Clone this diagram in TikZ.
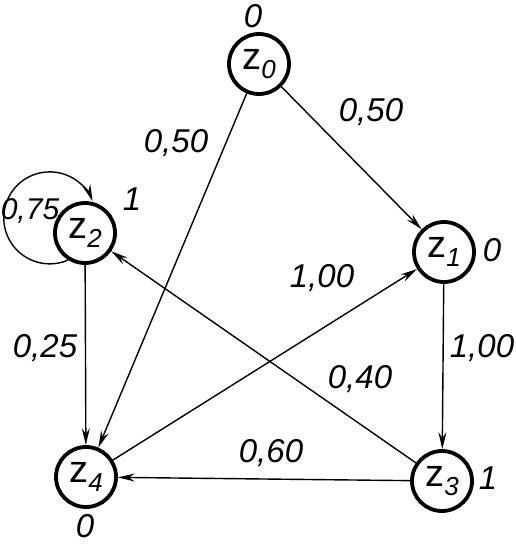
\documentclass[tikz,border=0pt]{standalone}
\usepackage{fontspec}
\setmainfont{Liberation Sans}
\usetikzlibrary{arrows.meta}
\tikzset{state/.style={draw,circle,line width=3.8pt,minimum size=60pt,inner sep=0pt},
  wt/.style={font=\fontsize{33}{33}\selectfont\itshape,inner sep=0pt},
  pr/.style={-{Stealth[length=17pt,width=8pt,inset=6pt]},line width=1.4pt}}
\newcommand{\zname}[1]{\fontsize{38}{38}\selectfont z\raisebox{-9pt}{\fontsize{26}{26}\selectfont\itshape #1}}

\begin{document}
\begin{tikzpicture}[x=1pt,y=1pt]
\useasboundingbox (0,0) rectangle (516,-546);
% states
\node[state] (z0) at (259,-64) {\zname{0}};
\node[state] (z1) at (444,-252) {\zname{1}};
\node[state] (z2) at (85,-233) {\zname{2}};
\node[state] (z3) at (442,-481) {\zname{3}};
\node[state] (z4) at (86,-477) {\zname{4}};
% marks of the states
\node[wt] (m0) at (253,-16) {0};
\node[wt] (m1) at (492,-250) {0};
\node[wt] (m2) at (132,-199) {1};
\node[wt] (m3) at (488,-478) {1};
\node[wt] (m4) at (85,-526) {0};
% transitions
\draw[pr] (z0) -- (z1);
\draw[pr] (z0) -- (z4);
\draw[pr] (z2) -- (z4);
\draw[pr] (z4) -- (z1);
\draw[pr] (z1) -- (z3);
\draw[pr] (z3) -- (z2);
\draw[pr] (z3) -- (z4);
\draw[pr] (z2.-122) arc[start angle=-66.5,end angle=-338.7,radius=46pt];
% weights
\node[wt] (p01) at (371,-112) {0,50};
\node[wt] (p04) at (176,-143) {0,50};
\node[wt,font=\fontsize{30}{30}\selectfont\itshape] (p22) at (30,-211) {0,75};
\node[wt] (p41) at (322,-278) {1,00};
\node[wt] (p13) at (482,-348) {1,00};
\node[wt] (p24) at (45,-348) {0,25};
\node[wt] (p32) at (360,-379) {0,40};
\node[wt] (p34) at (271,-453) {0,60};
\end{tikzpicture}
\end{document}
